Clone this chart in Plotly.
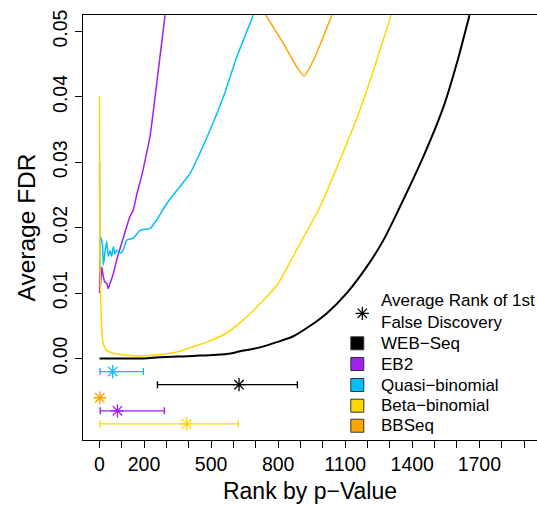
import plotly.graph_objects as go

# ---------------- data ----------------
web_rank = [1, 100, 200, 271, 420, 570, 630, 719, 794, 868, 943, 1017, 1107, 1196, 1271, 1345, 1450, 1540, 1599, 1656]
web_fdr = [0.0, 0.0, 0.0, 0.0002, 0.0004, 0.0007, 0.0011, 0.0017, 0.0025, 0.0034, 0.0050, 0.0069, 0.0100,
           0.0140, 0.0181, 0.0232, 0.0309, 0.0385, 0.0451, 0.0525]

beta_rank = [1, 3, 8, 15, 33, 63, 123, 196, 272, 346, 420, 495, 570, 644, 719, 794, 868, 987, 1077, 1166, 1241, 1305]
beta_fdr = [0.0401, 0.015, 0.007, 0.0027, 0.0012, 0.0008, 0.0005, 0.0004, 0.0006, 0.0010, 0.0018, 0.0027,
            0.0039, 0.0059, 0.0084, 0.0112, 0.0157, 0.0232, 0.0304, 0.0380, 0.0456, 0.0525]

quasi_rank = [1, 3, 6, 11, 14, 18, 25, 33, 40, 48, 55, 63, 70, 78, 93, 107, 123, 152, 182, 227, 257, 302,
              361, 406, 450, 495, 555, 615, 689]
quasi_fdr = [0.030, 0.014, 0.0185, 0.0181, 0.0175, 0.0143, 0.0161, 0.0179, 0.0156, 0.0165, 0.0156, 0.0171,
             0.0160, 0.0166, 0.0161, 0.0166, 0.0181, 0.0184, 0.0196, 0.0199, 0.0212, 0.0237, 0.0263, 0.0283,
             0.0314, 0.0349, 0.0400, 0.0461, 0.0525]

eb2_rank = [1, 2, 5, 11, 18, 25, 33, 40, 48, 63, 78, 107, 137, 152, 167, 190, 212, 227, 257, 294]
eb2_fdr = [0.010, 0.015, 0.011, 0.0140, 0.0125, 0.0117, 0.0115, 0.0107, 0.0115, 0.0130, 0.0151, 0.0184,
           0.0217, 0.0227, 0.0250, 0.0280, 0.0315, 0.0340, 0.0421, 0.0525]

bbseq_rank = [744, 823, 883, 916, 958, 1002, 1040]
bbseq_fdr = [0.0525, 0.0482, 0.0446, 0.0432, 0.0456, 0.0492, 0.0525]

# average rank of first false discovery (left, mean, right) and the row it is drawn on
fd_methods = ["Quasi-binomial", "WEB-Seq", "BBSeq", "EB2", "Beta-binomial"]
fd_low = [3, 260, 2, 4, 3]
fd_mean = [60, 625, 2, 81, 391]
fd_high = [197, 886, 2, 291, 622]
fd_row = [-0.002, -0.004, -0.006, -0.008, -0.010]

x_tick_vals = list(range(0, 2000, 100))
x_tick_labels = {0: "0", 200: "200", 500: "500", 800: "800", 1100: "1100", 1400: "1400", 1700: "1700"}
y_tick_vals = [0.0, 0.01, 0.02, 0.03, 0.04, 0.05]
y_tick_labels = ["0.00", "0.01", "0.02", "0.03", "0.04", "0.05"]

legend_names = ["WEB\u2212Seq", "EB2", "Quasi\u2212binomial", "Beta\u2212binomial", "BBSeq"]
legend_star_text = "Average Rank of 1st<br>False Discovery"

colors = {"WEB-Seq": "#000000", "EB2": "#A020F0", "Quasi-binomial": "#00BFFF",
          "Beta-binomial": "#FFD700", "BBSeq": "#FFA500"}
legend_colors = [colors["WEB-Seq"], colors["EB2"], colors["Quasi-binomial"], colors["Beta-binomial"], colors["BBSeq"]]

FONT = "Liberation Sans, Arial, Helvetica, sans-serif"

fig = go.Figure()

curves = [
    ("EB2", eb2_rank, eb2_fdr, 1.5, 0.6),
    ("Quasi-binomial", quasi_rank, quasi_fdr, 1.5, 0.6),
    ("BBSeq", bbseq_rank, bbseq_fdr, 1.5, 0.4),
    ("Beta-binomial", beta_rank, beta_fdr, 1.5, 0.8),
    ("WEB-Seq", web_rank, web_fdr, 2.0, 0.8),
]
for name, xs, ys, w, sm in curves:
    fig.add_trace(go.Scatter(x=xs, y=ys, mode="lines",
                             line=dict(color=colors[name], width=w, shape="spline", smoothing=sm),
                             showlegend=False, hoverinfo="skip"))

for name, lo, mu, hi, row in zip(fd_methods, fd_low, fd_mean, fd_high, fd_row):
    c = colors[name]
    fig.add_trace(go.Scatter(
        x=[mu], y=[row], mode="markers",
        marker=dict(symbol="asterisk-open", size=11, color=c, line=dict(color=c, width=1.3)),
        error_x=dict(type="data", symmetric=False, array=[hi - mu], arrayminus=[mu - lo],
                     color=c, thickness=1.4, width=3.5),
        showlegend=False, hoverinfo="skip"))

# ---- legend built on an overlay [0,1] axis pair ----
leg_x_sq = 0.6042
leg_x_star = 0.6152
leg_x_text = 0.6526
leg_y_star = 0.2981
leg_y_rows = [0.2275, 0.1788, 0.1294, 0.0807, 0.0336]

fig.add_trace(go.Scatter(x=[leg_x_star], y=[leg_y_star], xaxis="x2", yaxis="y2", mode="markers",
                         marker=dict(symbol="asterisk-open", size=11, color="black",
                                     line=dict(color="black", width=1.2)),
                         showlegend=False, hoverinfo="skip"))
fig.add_trace(go.Scatter(x=[leg_x_sq] * len(legend_names), y=leg_y_rows, xaxis="x2", yaxis="y2",
                         mode="markers",
                         marker=dict(symbol="square", size=13, color=legend_colors,
                                     line=dict(color="#333333", width=1)),
                         showlegend=False, hoverinfo="skip"))

annotations = [dict(x=leg_x_text, y=leg_y_star + 0.004, xref="x2", yref="y2", text=legend_star_text,
                    showarrow=False, xanchor="left", yanchor="middle", align="left",
                    font=dict(family=FONT, size=17, color="black"))]
for name, yy in zip(legend_names, leg_y_rows):
    annotations.append(dict(x=leg_x_text, y=yy, xref="x2", yref="y2", text=name, showarrow=False,
                            xanchor="left", yanchor="middle", font=dict(family=FONT, size=17, color="black")))

fig.update_layout(
    width=537, height=506,
    margin=dict(l=83, r=0, t=15, b=66),
    paper_bgcolor="white", plot_bgcolor="white",
    font=dict(family=FONT, color="black"),
    xaxis=dict(range=[-73, 1958], tickmode="array", tickvals=x_tick_vals,
               ticktext=[x_tick_labels.get(v, "") for v in x_tick_vals],
               ticks="outside", ticklen=7, tickwidth=1, tickcolor="black",
               showline=True, linecolor="black", linewidth=1, mirror=True,
               showgrid=False, zeroline=False, tickfont=dict(size=19.5, family=FONT),
               title=dict(text="Rank by p\u2212Value", font=dict(size=23, family=FONT), standoff=8)),
    yaxis=dict(range=[-0.01246, 0.05252], tickmode="array", tickvals=y_tick_vals, ticktext=y_tick_labels,
               ticks="outside", ticklen=7, tickwidth=1, tickcolor="black", tickangle=-90,
               showline=True, linecolor="black", linewidth=1,
               showgrid=False, zeroline=False, tickfont=dict(size=19.5, family=FONT),
               title=dict(text="Average FDR", font=dict(size=24.5, family=FONT), standoff=6)),
    xaxis2=dict(range=[0, 1], overlaying="x", visible=False, fixedrange=True),
    yaxis2=dict(range=[0, 1], overlaying="y", visible=False, fixedrange=True),
    annotations=annotations,
    showlegend=False,
)

fig.write_html("out.html")
